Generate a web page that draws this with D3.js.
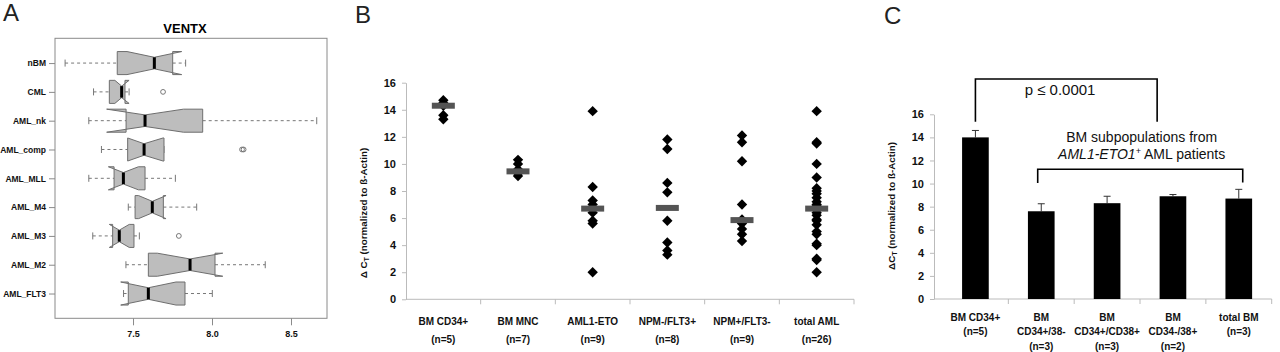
<!DOCTYPE html>
<html>
<head>
<meta charset="utf-8">
<script src="https://cdn.jsdelivr.net/npm/d3@7"></script>
<style>
  body { margin: 0; background: #fff; }
  svg { display: block; font-family: "Liberation Sans", Arial, sans-serif; }
</style>
</head>
<body>
<svg id="fig" width="1280" height="352"></svg>
<script>
// ---- Panel A data (VENTX boxplots)
const groupsA = ["nBM", "CML", "AML_nk", "AML_comp", "AML_MLL", "AML_M4", "AML_M3", "AML_M2", "AML_FLT3"];
const whiskerLo = [7.07, 7.25, 7.22, 7.30, 7.22, 7.47, 7.245, 7.455, 7.44];
const q1 = [7.40, 7.35, 7.456, 7.466, 7.38, 7.513, 7.371, 7.597, 7.47];
const medianA = [7.635, 7.428, 7.576, 7.57, 7.439, 7.622, 7.413, 7.861, 7.597];
const q3 = [7.751, 7.449, 7.941, 7.696, 7.576, 7.692, 7.506, 8.019, 7.829];
const whiskerHi = [7.833, 7.475, 8.663, 7.696, 7.768, 7.903, 7.54, 8.337, 8.002];
const notchLo = [7.462, 7.385, 7.333, 7.466, 7.344, 7.535, 7.35, 7.654, 7.422];
const notchHi = [7.808, 7.475, 7.819, 7.69, 7.534, 7.709, 7.476, 8.068, 7.772];
const outliersA = [[], [7.69], [], [8.19, 8.2], [], [], [7.79], [], []];
const ticksA = [7.5, 8.0, 8.5];

// ---- Panel B data (dot plot)
const catsB = ["BM CD34+", "BM MNC", "AML1-ETO", "NPM-/FLT3+", "NPM+/FLT3-", "total AML"];
const countsB = ["(n=5)", "(n=7)", "(n=9)", "(n=8)", "(n=9)", "(n=26)"];
const bmCD34 = [14.7, 14.5, 14.3, 13.6, 13.3];
const bmMNC = [10.3, 10.0, 9.6, 9.5, 9.4, 9.3, 9.1];
const aml1Eto = [13.9, 8.3, 7.3, 7.0, 6.7, 6.4, 5.8, 5.6, 2.0];
const npmNegFlt3Pos = [11.8, 11.1, 8.6, 7.9, 5.8, 4.2, 3.6, 3.3];
const npmPosFlt3Neg = [12.1, 11.6, 10.2, 7.0, 5.9, 5.6, 5.2, 4.8, 4.3];
const totalAML = [13.9, 11.6, 11.5, 10.0, 9.0, 8.2, 8.0, 7.8, 7.5, 7.2, 7.0, 6.9, 6.7,
                  6.6, 6.4, 6.2, 5.9, 5.8, 5.5, 5.0, 4.8, 4.1, 4.0, 3.0, 2.9, 2.0];
const medianB = [14.3, 9.45, 6.7, 6.75, 5.85, 6.7];

// ---- Panel C data (bars)
const catsC = [["BM CD34+", "(n=5)"], ["BM", "CD34+/38-", "(n=3)"], ["BM", "CD34+/CD38+", "(n=3)"],
               ["BM", "CD34-/38+", "(n=2)"], ["total BM", "(n=3)"]];
const meanC = [14.0, 7.6, 8.3, 8.9, 8.7];
const errC = [0.6, 0.65, 0.6, 0.15, 0.8];

const svg = d3.select("#fig");
const font = "Liberation Sans, Arial, sans-serif";

// Panel letters
[["A", 3, 21], ["B", 355, 23], ["C", 884, 24]].forEach(([t, x, y]) => {
  svg.append("text").attr("x", x).attr("y", y).attr("font-size", 24).attr("fill", "#222").text(t);
});

// ================= Panel A =================
const xA = d3.scaleLinear().domain([7.006, 8.728]).range([55, 327]);
const yA = d3.scaleLinear().domain([0.14, 9.86]).range([38.3, 318.3]);
const gA = svg.append("g");

gA.append("text")
  .attr("x", 185).attr("y", 33)
  .attr("text-anchor", "middle")
  .attr("font-size", 13).attr("font-weight", "bold")
  .text("VENTX");

gA.append("rect")
  .attr("x", xA.range()[0]).attr("y", yA.range()[0])
  .attr("width", xA.range()[1] - xA.range()[0])
  .attr("height", yA.range()[1] - yA.range()[0])
  .attr("fill", "none").attr("stroke", "#8a8a8a");

const hw = yA(1.4) - yA(1);
groupsA.forEach((g, i) => {
  const c = yA(i + 1);
  // whiskers
  [[whiskerLo[i], q1[i]], [q3[i], whiskerHi[i]]].forEach(([a, b]) => {
    gA.append("line")
      .attr("x1", xA(a)).attr("x2", xA(b)).attr("y1", c).attr("y2", c)
      .attr("stroke", "#777").attr("stroke-dasharray", "3,3");
  });
  [whiskerLo[i], whiskerHi[i]].forEach((v) => {
    gA.append("line")
      .attr("x1", xA(v)).attr("x2", xA(v)).attr("y1", c - 3.5).attr("y2", c + 3.5)
      .attr("stroke", "#777");
  });
  // notched box
  const pts = [
    [q1[i], c - hw], [q1[i], c + hw], [notchLo[i], c + hw], [medianA[i], c + hw * 0.5],
    [notchHi[i], c + hw], [q3[i], c + hw], [q3[i], c - hw], [notchHi[i], c - hw],
    [medianA[i], c - hw * 0.5], [notchLo[i], c - hw]
  ].map(([v, y]) => [xA(v), y]);
  gA.append("path")
    .attr("d", d3.line()(pts) + "Z")
    .attr("fill", "#bdbdbd").attr("stroke", "#6e6e6e").attr("stroke-width", 1);
  gA.append("line")
    .attr("x1", xA(medianA[i])).attr("x2", xA(medianA[i]))
    .attr("y1", c - hw * 0.5).attr("y2", c + hw * 0.5)
    .attr("stroke", "#000").attr("stroke-width", 3);
  outliersA[i].forEach((v) => {
    gA.append("circle").attr("cx", xA(v)).attr("cy", c).attr("r", 2.4)
      .attr("fill", "none").attr("stroke", "#777");
  });
});

const yAxisA = d3.axisLeft(yA)
  .tickValues(d3.range(1, groupsA.length + 1))
  .tickFormat((d) => groupsA[d - 1])
  .tickSize(6).tickPadding(3);
const yAG = gA.append("g").attr("transform", `translate(${xA.range()[0]},0)`).call(yAxisA);
yAG.select(".domain").remove();
yAG.selectAll(".tick line").attr("stroke", "#8a8a8a");
yAG.selectAll(".tick text").attr("font-size", 8.5).attr("font-weight", "bold")
  .attr("font-family", font).attr("fill", "#111");

const xAxisA = d3.axisBottom(xA).tickValues(ticksA).tickFormat(d3.format(".1f")).tickSize(7).tickPadding(5);
const xAG = gA.append("g").attr("transform", `translate(0,${yA.range()[1]})`).call(xAxisA);
xAG.select(".domain").remove();
xAG.selectAll(".tick line").attr("stroke", "#8a8a8a");
xAG.selectAll(".tick text").attr("font-size", 9).attr("font-weight", "bold")
  .attr("font-family", font).attr("fill", "#111");

// ================= Panel B =================
const yB = d3.scaleLinear().domain([0, 16]).range([299.3, 82.7]);
const xB = d3.scaleBand().domain(catsB).range([406, 854]);
const gB = svg.append("g");

const yAxisB = d3.axisLeft(yB).tickValues(d3.range(0, 17, 2)).tickSize(4).tickPadding(6).tickSizeOuter(0);
const yBG = gB.append("g").attr("transform", `translate(${xB.range()[0]},0)`).call(yAxisB);
yBG.select(".domain").attr("stroke", "#bbb");
yBG.selectAll(".tick line").attr("stroke", "#bbb");
yBG.selectAll(".tick text").attr("font-size", 11).attr("font-weight", "bold")
  .attr("font-family", font).attr("fill", "#111");

gB.append("line")
  .attr("x1", xB.range()[0]).attr("x2", xB.range()[1])
  .attr("y1", yB(0)).attr("y2", yB(0)).attr("stroke", "#bbb");
catsB.slice(1).concat([null]).forEach((c) => {
  const x = c ? xB(c) : xB.range()[1];
  gB.append("line").attr("x1", x).attr("x2", x)
    .attr("y1", yB(0)).attr("y2", yB(0) + 5).attr("stroke", "#bbb");
});

const seriesB = [bmCD34, bmMNC, aml1Eto, npmNegFlt3Pos, npmPosFlt3Neg, totalAML];
const diamond = d3.symbol(d3.symbolSquare, 54);
catsB.forEach((c, i) => {
  const cx = xB(c) + xB.bandwidth() / 2;
  seriesB[i].forEach((v) => {
    gB.append("path")
      .attr("d", diamond())
      .attr("transform", `translate(${cx},${yB(v)}) rotate(45)`)
      .attr("fill", "#000");
  });
  gB.append("rect")
    .attr("x", cx - 11.5).attr("y", yB(medianB[i]) - 3)
    .attr("width", 23).attr("height", 6)
    .attr("fill", "#545454");
  const t = gB.append("text")
    .attr("text-anchor", "middle").attr("font-size", 10).attr("font-weight", "bold").attr("fill", "#111");
  t.append("tspan").attr("x", cx).attr("y", 324.5).text(c);
  t.append("tspan").attr("x", cx).attr("y", 342.5).text(countsB[i]);
});

const labB = gB.append("text")
  .attr("transform", "translate(367,213) rotate(-90)")
  .attr("text-anchor", "middle").attr("font-size", 9.8).attr("font-weight", "bold").attr("fill", "#111");
labB.append("tspan").text("Δ C");
labB.append("tspan").attr("dy", 2).attr("font-size", 7).text("T");
labB.append("tspan").attr("dy", -2).text(" (normalized  to ß-Actin)");

// ================= Panel C =================
const yC = d3.scaleLinear().domain([0, 16]).range([299, 114.3]);
const xC = d3.scaleBand().domain(d3.range(catsC.length)).range([942.5, 1271.7]);
const axisXC = 934;
const gC = svg.append("g");

const yAxisC = d3.axisLeft(yC).tickValues(d3.range(0, 17, 2)).tickSize(4).tickPadding(6).tickSizeOuter(0);
const yCG = gC.append("g").attr("transform", `translate(${axisXC},0)`).call(yAxisC);
yCG.select(".domain").attr("stroke", "#bbb");
yCG.selectAll(".tick line").attr("stroke", "#bbb");
yCG.selectAll(".tick text").attr("font-size", 11).attr("font-weight", "bold")
  .attr("font-family", font).attr("fill", "#111");

gC.append("line")
  .attr("x1", axisXC).attr("x2", xC.range()[1])
  .attr("y1", yC(0)).attr("y2", yC(0)).attr("stroke", "#bbb");
d3.range(1, catsC.length + 1).forEach((i) => {
  const x = i < catsC.length ? xC(i) : xC.range()[1];
  gC.append("line").attr("x1", x).attr("x2", x)
    .attr("y1", yC(0)).attr("y2", yC(0) + 5).attr("stroke", "#bbb");
});

const barW = xC.bandwidth() * 0.405;
catsC.forEach((lines, i) => {
  const cx = xC(i) + xC.bandwidth() / 2;
  gC.append("line")
    .attr("x1", cx).attr("x2", cx)
    .attr("y1", yC(meanC[i])).attr("y2", yC(meanC[i] + errC[i]))
    .attr("stroke", "#333");
  gC.append("line")
    .attr("x1", cx - 3.5).attr("x2", cx + 3.5)
    .attr("y1", yC(meanC[i] + errC[i])).attr("y2", yC(meanC[i] + errC[i]))
    .attr("stroke", "#333");
  gC.append("rect")
    .attr("x", cx - barW / 2).attr("y", yC(meanC[i]))
    .attr("width", barW).attr("height", yC(0) - yC(meanC[i]))
    .attr("fill", "#000");
  const t = gC.append("text")
    .attr("text-anchor", "middle").attr("font-size", 10).attr("font-weight", "bold").attr("fill", "#111");
  lines.forEach((s, k) => {
    t.append("tspan").attr("x", cx).attr("y", 320.5 + k * 14.7).text(s);
  });
});

// brackets, in category units (0 = first bar centre) and value units
const uC = d3.scaleLinear().domain([0, 1]).range([xC(0) + xC.bandwidth() / 2, xC(1) + xC.bandwidth() / 2]);
function bracket(a, b, top, bottomA, bottomB) {
  gC.append("path")
    .attr("d", d3.line()([[uC(a), yC(bottomA)], [uC(a), yC(top)], [uC(b), yC(top)], [uC(b), yC(bottomB)]]))
    .attr("fill", "none").attr("stroke", "#000").attr("stroke-width", 1.6);
}
bracket(0, 2.76, 19.06, 15.36, 15.36);
bracket(0.946, 4.06, 11.24, 10.05, 10.1);

gC.append("text")
  .attr("x", uC(1.285)).attr("y", yC(17.68))
  .attr("text-anchor", "middle").attr("font-size", 15).attr("fill", "#111")
  .text("p ≤ 0.0001");

const note = gC.append("text").attr("text-anchor", "middle").attr("font-size", 14).attr("fill", "#111");
note.append("tspan").attr("x", uC(2.525)).attr("y", yC(13.6)).text("BM subpopulations from");
const line2 = note.append("tspan").attr("x", uC(2.525)).attr("y", yC(12.13));
line2.append("tspan").attr("font-style", "italic").text("AML1-ETO1");
line2.append("tspan").attr("font-size", 9).attr("dy", -5).text("+");
line2.append("tspan").attr("dy", 5).text(" AML patients");

const labC = gC.append("text")
  .attr("transform", "translate(895,206) rotate(-90)")
  .attr("text-anchor", "middle").attr("font-size", 9.8).attr("font-weight", "bold").attr("fill", "#111");
labC.append("tspan").text("ΔC");
labC.append("tspan").attr("dy", 2).attr("font-size", 7).text("T");
labC.append("tspan").attr("dy", -2).text(" (normalized to ß-Actin)");
</script>
</body>
</html>
